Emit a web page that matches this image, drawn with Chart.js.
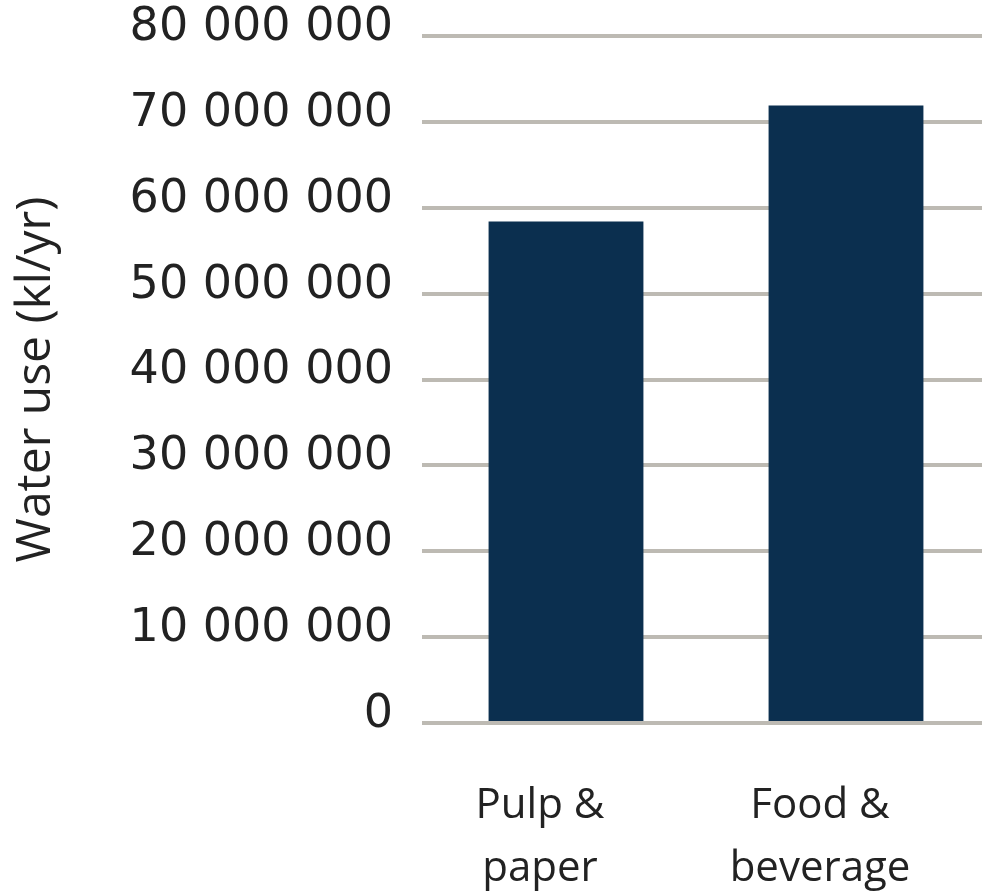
<!DOCTYPE html>
<html>
<head>
<meta charset="utf-8">
<script src="https://cdn.jsdelivr.net/npm/chart.js@4"></script>
<style>
html,body{margin:0;padding:0;background:#fff;overflow:hidden;}
#wrap{width:986px;height:895px;position:relative;}
</style>
</head>
<body>
<div id="wrap"><canvas id="c" width="986" height="895"></canvas></div>
<script>
const categories = [['Pulp &', 'paper'], ['Food &', 'beverage']];
const waterUse = [58400000, 71900000];
const yMin = 0;
const yMax = 80000000;
const yStep = 10000000;
const yTitle = 'Water use (kl/yr)';

function fmt(v) {
  return String(Math.round(v)).replace(/\B(?=(\d{3})+(?!\d))/g, ' ');
}

new Chart(document.getElementById('c'), {
  type: 'bar',
  data: {
    labels: categories,
    datasets: [{
      data: waterUse,
      backgroundColor: '#0b2f4f',
      borderWidth: 0,
      barPercentage: 0.553,
      categoryPercentage: 1
    }]
  },
  options: {
    responsive: false,
    animation: false,
    layout: { padding: { top: 36, right: 0, left: 0, bottom: 0 } },
    plugins: { legend: { display: false }, tooltip: { enabled: false } },
    scales: {
      x: {
        grid: { display: false },
        border: { display: false },
        ticks: {
          color: '#222',
          font: { family: 'Open Sans', size: 42, lineHeight: 1.5 },
          padding: 44,
          labelOffset: -26,
          maxRotation: 0,
          autoSkip: false
        },
        afterFit: (s) => { s.height = 172; s.paddingLeft = 0; s.paddingRight = 0; }
      },
      y: {
        min: yMin,
        max: yMax,
        border: { display: false },
        grid: { color: '#bdbab3', lineWidth: 4, tickColor: '#bdbab3', tickLength: 4, drawTicks: true },
        ticks: {
          stepSize: yStep,
          color: '#222',
          font: { family: 'DejaVu Sans', size: 46 },
          padding: 29,
          labelOffset: -8,
          callback: (v) => fmt(v)
        },
        title: {
          display: true,
          text: yTitle,
          color: '#222',
          font: { family: 'Open Sans', size: 48 },
          padding: { top: 8, bottom: 0 }
        },
        afterFit: (s) => { s.width = 426; s.paddingTop = 0; s.paddingBottom = 0; }
      }
    }
  }
});
</script>
</body>
</html>
